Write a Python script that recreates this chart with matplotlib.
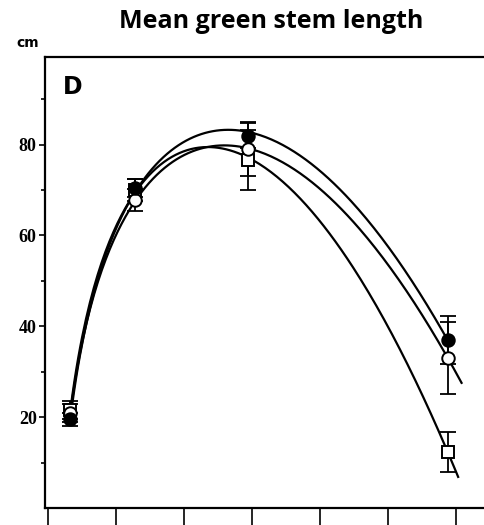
import numpy as np
import matplotlib.pyplot as plt

# datos (x en unidades de la escala sin etiquetas)
x = [0.33, 1.28, 2.94, 5.88]
lleno = [19.5, 70.5, 82.0, 37.0]
circulo = [21.0, 67.8, 79.0, 33.0]
cuadrado = [21.5, 70.0, 76.7, 12.3]
err_lleno = [1.5, 2.0, 2.7, 5.2]
err_circulo = [2.0, 2.5, 6.0, 8.0]
err_cuadrado = [2.0, 2.5, 6.6, 4.4]
x_fin = [5.88, 6.08, 6.03]
yticks = [20, 40, 60, 80]

fig = plt.figure(figsize=(4.84, 5.25), dpi=100)
ax = fig.add_axes([45 / 484, 17 / 525, 439 / 484, 451 / 525])

# el orden importa: los circulos llenos quedan encima
series = [(cuadrado, err_cuadrado, 's', 'white', x_fin[2]),
          (circulo, err_circulo, 'o', 'white', x_fin[1]),
          (lleno, err_lleno, 'o', 'black', x_fin[0])]

# curvas ajustadas: y = a + b*ln(x) + c*x^2 (minimos cuadrados)
xa = np.array(x)
A = np.column_stack([np.ones_like(xa), np.log(xa), xa ** 2])
for y, e, m, fc, xf in series:
    coef = np.linalg.lstsq(A, np.array(y), rcond=None)[0]
    xx = np.linspace(x[0], xf, 200)
    yy = coef[0] + coef[1] * np.log(xx) + coef[2] * xx ** 2
    ax.plot(xx, yy, color='black', lw=1.6, zorder=2)

for i, (y, e, m, fc, xf) in enumerate(series):
    ax.errorbar(x, y, yerr=e, fmt='none', ecolor='black', elinewidth=1.3,
                capsize=5.5, capthick=1.3, zorder=3)
    ax.plot(x, y, m, ms=9, mfc=fc, mec='black', mew=1.4, zorder=4 + i)

ax.set_xlim(-0.044, 6.41)
ax.set_ylim(0, 99.3)
ax.set_xticks(range(7))
ax.set_xticklabels([])
ax.set_yticks(yticks)
ax.set_yticks([10, 30, 50, 70, 90], minor=True)
ax.set_yticklabels([str(v) for v in yticks], fontfamily='Liberation Serif',
                   fontweight='bold', fontsize=13)
ax.tick_params(axis='y', which='major', direction='out', length=4, width=1.2, pad=2)
ax.tick_params(axis='y', which='minor', direction='out', length=3, width=1.2)
ax.tick_params(axis='x', direction='out', length=14, width=1.2)
ax.spines['right'].set_visible(False)
for s in ['left', 'top', 'bottom']:
    ax.spines[s].set_linewidth(1.6)

ax.text(0.04, 0.96, 'D', transform=ax.transAxes, fontsize=17,
        fontweight='bold', va='top', ha='left')
fig.text(271 / 484, 1 - 22 / 525, 'Mean green stem length', fontsize=18,
         fontfamily='Open Sans', fontweight='bold', ha='center', va='center')
fig.text(28 / 484, 1 - 43 / 525, 'cm', fontsize=10, fontweight='bold',
         ha='center', va='center')

plt.savefig('out.png', dpi=100)
